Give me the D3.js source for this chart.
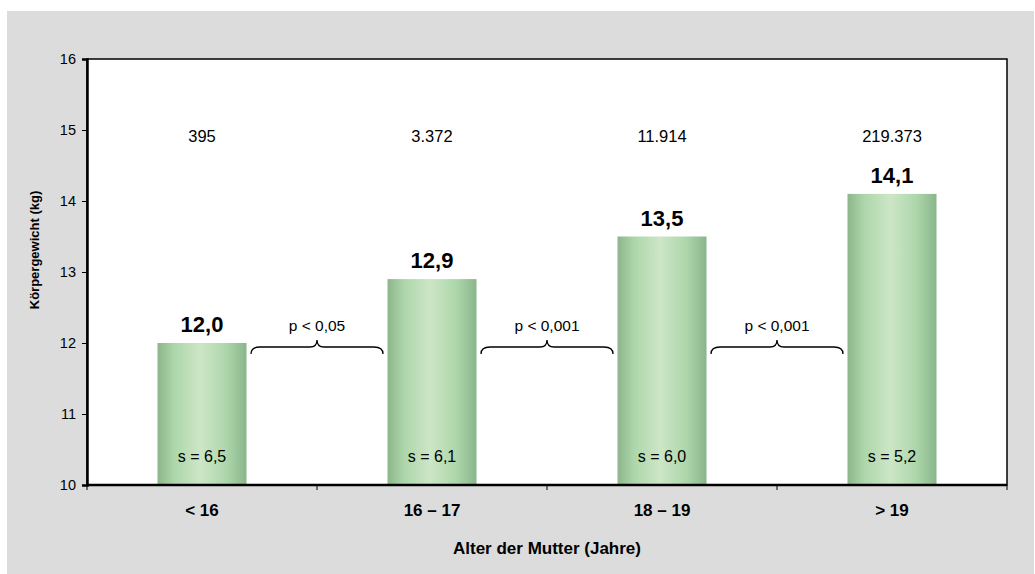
<!DOCTYPE html>
<html>
<head>
<meta charset="utf-8">
<script src="https://cdn.jsdelivr.net/npm/d3@7"></script>
<style>
  html, body { margin: 0; padding: 0; background: #ffffff; }
  svg { display: block; font-family: "Liberation Sans", Arial, Helvetica, sans-serif; }
</style>
</head>
<body>
<svg id="chart" width="1035" height="574"></svg>
<script>
// Mean body weight by maternal age group
const categories = ["< 16", "16 – 17", "18 – 19", "> 19"];
const weights = [12.0, 12.9, 13.5, 14.1];
const sampleSizes = ["395", "3.372", "11.914", "219.373"];
const stdDevs = ["6,5", "6,1", "6,0", "5,2"];
const pValues = ["p < 0,05", "p < 0,001", "p < 0,001"];
const yTicks = [10, 11, 12, 13, 14, 15, 16];

const fmt = v => v.toFixed(1).replace(".", ",");

const svg = d3.select("#chart");
const W = 1035, H = 574;
const margin = { left: 87, right: 28, top: 59, bottom: 89 };
const innerW = W - margin.left - margin.right;
const innerH = H - margin.top - margin.bottom;

// panel background
svg.append("rect").attr("x", 7).attr("y", 11).attr("width", W - 8).attr("height", H - 11)
  .attr("fill", "#dcdcdc");

const defs = svg.append("defs");
const grad = defs.append("linearGradient").attr("id", "barGrad")
  .attr("x1", "0%").attr("x2", "100%").attr("y1", "0%").attr("y2", "0%");
[["0%", "#8cb58b"], ["18%", "#acd6aa"], ["48%", "#cde6c6"], ["78%", "#acd6aa"], ["100%", "#8ab48a"]]
  .forEach(([o, c]) => grad.append("stop").attr("offset", o).attr("stop-color", c));

const g = svg.append("g").attr("transform", `translate(${margin.left},${margin.top})`);

const x = d3.scaleBand().domain(categories).range([0, innerW]).paddingInner(0.613).paddingOuter(0.3065);
const xBounds = d3.scaleBand().domain(categories).range([0, innerW]);
const y = d3.scaleLinear().domain([10, 16]).range([innerH, 0]);

// plot area
g.append("rect").attr("width", innerW).attr("height", innerH)
  .attr("fill", "#ffffff").attr("stroke", "#000").attr("stroke-width", 1.5);

// bars
g.selectAll("rect.bar").data(weights).join("rect")
  .attr("class", "bar")
  .attr("x", (d, i) => x(categories[i]))
  .attr("width", x.bandwidth())
  .attr("y", d => y(d))
  .attr("height", d => innerH - y(d))
  .attr("fill", "url(#barGrad)");

// y axis
const yAxis = g.append("g")
  .call(d3.axisLeft(y).tickValues(yTicks).tickSize(5).tickPadding(6).tickFormat(d3.format("d")));
yAxis.select(".domain").attr("stroke-width", 2.5);
yAxis.selectAll(".tick line").attr("stroke-width", 1);
yAxis.selectAll("text").attr("font-size", 14.5).attr("fill", "#000")
  .attr("font-family", "'Liberation Sans', Arial, sans-serif");

// x axis with ticks at group boundaries
const boundaries = categories.map(c => xBounds(c)).concat([innerW]);
const xAxis = g.append("g").attr("transform", `translate(0,${innerH})`);
xAxis.append("line").attr("x1", 0).attr("x2", innerW).attr("stroke", "#000").attr("stroke-width", 2.5);
xAxis.selectAll("line.tk").data(boundaries).join("line").attr("class", "tk")
  .attr("x1", d => d).attr("x2", d => d).attr("y1", 0).attr("y2", 5)
  .attr("stroke", "#000").attr("stroke-width", 1);
xAxis.selectAll("text.cat").data(categories).join("text").attr("class", "cat")
  .attr("x", d => x(d) + x.bandwidth() / 2).attr("y", 31)
  .attr("text-anchor", "middle").attr("font-weight", "bold").attr("font-size", 17)
  .text(d => d);

// value labels
g.selectAll("text.val").data(weights).join("text").attr("class", "val")
  .attr("x", (d, i) => x(categories[i]) + x.bandwidth() / 2)
  .attr("y", d => y(d) - 11)
  .attr("text-anchor", "middle").attr("font-weight", "bold").attr("font-size", 22)
  .text(d => fmt(d));

// sample sizes
g.selectAll("text.n").data(sampleSizes).join("text").attr("class", "n")
  .attr("x", (d, i) => x(categories[i]) + x.bandwidth() / 2)
  .attr("y", y(15) + 12)
  .attr("text-anchor", "middle").attr("font-size", 16.5)
  .text(d => d);

// standard deviations inside bars
g.selectAll("text.s").data(stdDevs).join("text").attr("class", "s")
  .attr("x", (d, i) => x(categories[i]) + x.bandwidth() / 2)
  .attr("y", y(10) - 23)
  .attr("text-anchor", "middle").attr("font-size", 16)
  .text(d => "s = " + d);

// significance braces between neighbouring groups
const braceY = y(12) + 4;
const braceHalf = 66;
function bracePath(cx) {
  const x0 = cx - braceHalf, x1 = cx + braceHalf, top = braceY - 7, low = braceY + 7;
  return `M${x0},${low} Q${x0},${braceY} ${x0 + 9},${braceY} L${cx - 7},${braceY} Q${cx},${braceY} ${cx},${top}` +
         ` Q${cx},${braceY} ${cx + 7},${braceY} L${x1 - 9},${braceY} Q${x1},${braceY} ${x1},${low}`;
}
pValues.forEach((p, i) => {
  const cx = boundaries[i + 1];
  g.append("path").attr("d", bracePath(cx)).attr("fill", "none").attr("stroke", "#000").attr("stroke-width", 1.3);
  g.append("text").attr("x", cx).attr("y", braceY - 16).attr("text-anchor", "middle")
    .attr("font-size", 15.5).text(p);
});

// axis titles
svg.append("text").attr("x", margin.left + innerW / 2).attr("y", 554)
  .attr("text-anchor", "middle").attr("font-weight", "bold").attr("font-size", 17)
  .text("Alter der Mutter (Jahre)");
svg.append("text").attr("transform", `translate(39,250) rotate(-90)`)
  .attr("text-anchor", "middle").attr("font-weight", "bold").attr("font-size", 13)
  .text("Körpergewicht (kg)");
</script>
</body>
</html>
